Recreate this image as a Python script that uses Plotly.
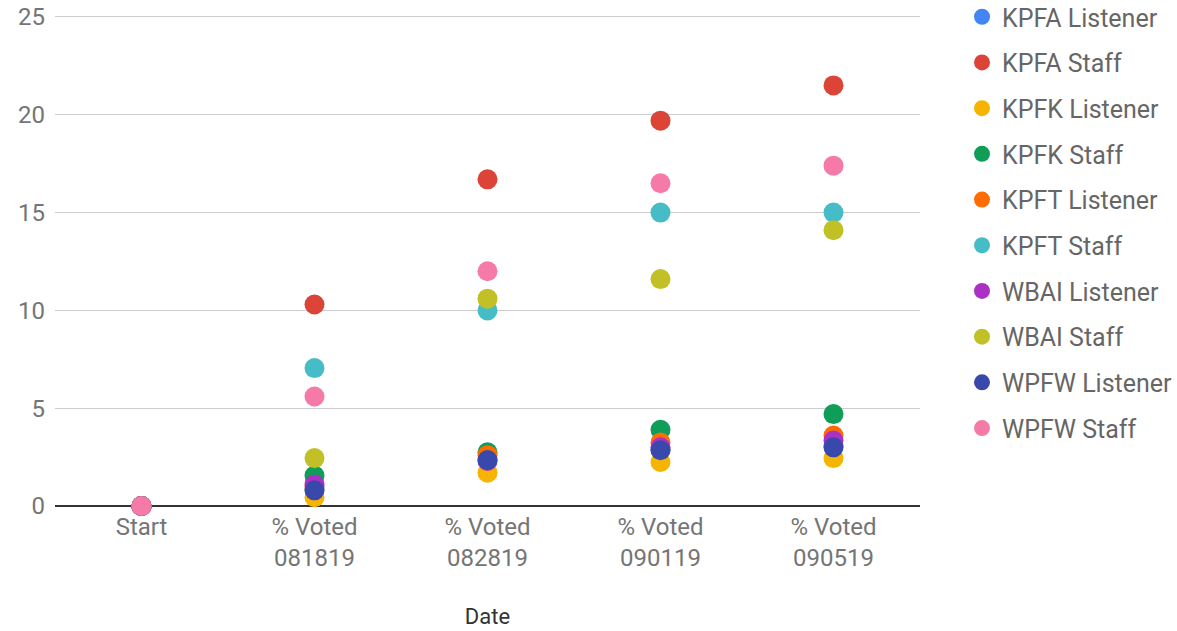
import plotly.graph_objects as go

categories = ["Start", "% Voted<br>081819", "% Voted<br>082819", "% Voted<br>090119", "% Voted<br>090519"]

series_names = ["KPFA Listener", "KPFA Staff", "KPFK Listener", "KPFK Staff", "KPFT Listener",
                "KPFT Staff", "WBAI Listener", "WBAI Staff", "WPFW Listener", "WPFW Staff"]

kpfa_listener = [0, 0.9, 2.4, 2.9, 3.1]
kpfa_staff = [0, 10.3, 16.7, 19.7, 21.5]
kpfk_listener = [0, 0.45, 1.7, 2.25, 2.45]
kpfk_staff = [0, 1.55, 2.75, 3.9, 4.7]
kpft_listener = [0, 1.0, 2.6, 3.25, 3.6]
kpft_staff = [0, 7.05, 10.0, 15.0, 15.0]
wbai_listener = [0, 1.1, 2.3, 3.0, 3.35]
wbai_staff = [0, 2.45, 10.6, 11.6, 14.1]
wpfw_listener = [0, 0.8, 2.35, 2.85, 3.0]
wpfw_staff = [0, 5.6, 12.0, 16.5, 17.4]

series_values = [kpfa_listener, kpfa_staff, kpfk_listener, kpfk_staff, kpft_listener,
                 kpft_staff, wbai_listener, wbai_staff, wpfw_listener, wpfw_staff]

colors = ["#4285f4", "#db4437", "#f4b400", "#0f9d58", "#ff6d00",
          "#46bdc6", "#ab30c4", "#c2c027", "#3949ab", "#f57aa8"]

W, H = 1177, 631
fig = go.Figure()
legend_layouts = {}
for i, (name, vals, col) in enumerate(zip(series_names, series_values, colors)):
    key = "legend" if i == 0 else f"legend{i + 1}"
    fig.add_trace(go.Scatter(
        x=categories, y=vals, name=name, mode="markers", legend=key,
        showlegend=True,
        marker=dict(size=20, color=col, line=dict(width=0)),
        cliponaxis=False,
    ))
    yc = 17 + 45.7 * i
    legend_layouts[key] = dict(
        xref="container", yref="container",
        x=962 / W, y=1 - yc / H, xanchor="left", yanchor="middle",
        font=dict(size=25, color="#666666"), itemsizing="trace",
        bgcolor="rgba(0,0,0,0)",
    )

fig.update_layout(
    width=W, height=H,
    showlegend=True,
    margin=dict(l=55, r=257, t=15, b=125, autoexpand=False),
    paper_bgcolor="white", plot_bgcolor="white",
    font=dict(family="Roboto", size=24, color="#757575"),
    xaxis=dict(type="category", range=[-0.5, 4.5], showgrid=False, zeroline=False,
               showline=False, ticks="", ticklabelstandoff=4,
               tickfont=dict(size=24, color="#757575"),
               title=dict(text="Date", font=dict(size=22, color="#333333"), standoff=37)),
    yaxis=dict(range=[0, 25.1], tickvals=[0, 5, 10, 15, 20, 25], showgrid=True,
               gridcolor="#cccccc", gridwidth=1,
               zeroline=True, zerolinecolor="#333333", zerolinewidth=2,
               showline=False, ticks="", ticklabelstandoff=9, ticklabeloverflow="allow",
               tickfont=dict(size=24, color="#757575")),
    **legend_layouts,
)

fig.write_html("out.html", config={"displayModeBar": False},
               post_script="document.body.style.margin='0';")
